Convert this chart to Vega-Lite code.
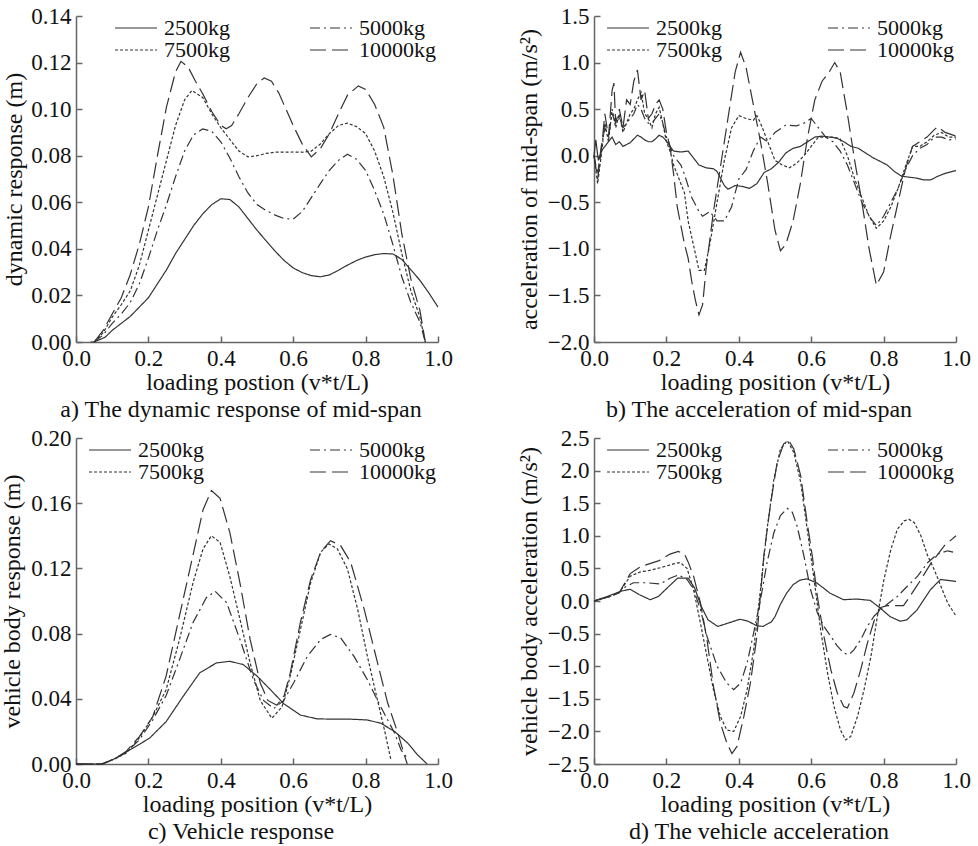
{
"$schema": "https://vega.github.io/schema/vega-lite/v6.json",
"padding": {"left": 0, "top": 5, "right": 5, "bottom": 5},
"config": {
  "font": "Liberation Serif, DejaVu Serif, serif",
  "view": {"stroke": null},
  "axis": {"grid": false, "labelFont": "Liberation Serif, DejaVu Serif, serif", "titleFont": "Liberation Serif, DejaVu Serif, serif", "labelFontSize": 23, "titleFontSize": 24, "titleFontWeight": "normal", "labelColor": "#111", "titleColor": "#111", "domainColor": "#666", "tickColor": "#666", "tickSize": -6, "domainWidth": 1.5, "tickWidth": 1.5, "labelFlush": false, "labelOverlap": false},
  "axisX": {"labelPadding": 11, "titlePadding": 0},
  "axisY": {"labelPadding": 11},
  "title": {"font": "Liberation Serif, DejaVu Serif, serif", "fontSize": 24, "fontWeight": "normal", "color": "#111", "orient": "bottom", "frame": "group", "dx": -16, "offset": 4},
  "legend": {"title": null, "orient": "none", "columns": 2, "symbolType": "M-4,0H4", "symbolSize": 110, "symbolStrokeWidth": 1.2, "symbolStrokeColor": "#333", "labelFont": "Liberation Serif, DejaVu Serif, serif", "labelFontSize": 22, "labelColor": "#111", "labelOffset": 17, "rowPadding": -7, "columnPadding": 103, "padding": 0}
},
"datasets": {
"a": [
{"x":0.04,"y":0,"m":"2500kg"},{"x":0.05,"y":0,"m":"2500kg"},{"x":0.08,"y":0.002,"m":"2500kg"},{"x":0.1,"y":0.005,"m":"2500kg"},{"x":0.125,"y":0.008,"m":"2500kg"},{"x":0.15,"y":0.011,"m":"2500kg"},{"x":0.175,"y":0.015,"m":"2500kg"},{"x":0.2,"y":0.019,"m":"2500kg"},{"x":0.225,"y":0.025,"m":"2500kg"},{"x":0.25,"y":0.031,"m":"2500kg"},{"x":0.275,"y":0.038,"m":"2500kg"},{"x":0.3,"y":0.044,"m":"2500kg"},{"x":0.325,"y":0.05,"m":"2500kg"},{"x":0.35,"y":0.055,"m":"2500kg"},{"x":0.375,"y":0.059,"m":"2500kg"},{"x":0.4,"y":0.0615,"m":"2500kg"},{"x":0.425,"y":0.0612,"m":"2500kg"},{"x":0.45,"y":0.058,"m":"2500kg"},{"x":0.475,"y":0.053,"m":"2500kg"},{"x":0.5,"y":0.048,"m":"2500kg"},{"x":0.525,"y":0.0435,"m":"2500kg"},{"x":0.55,"y":0.039,"m":"2500kg"},{"x":0.575,"y":0.035,"m":"2500kg"},{"x":0.6,"y":0.0318,"m":"2500kg"},{"x":0.625,"y":0.0298,"m":"2500kg"},{"x":0.65,"y":0.0285,"m":"2500kg"},{"x":0.675,"y":0.028,"m":"2500kg"},{"x":0.7,"y":0.0288,"m":"2500kg"},{"x":0.725,"y":0.0308,"m":"2500kg"},{"x":0.75,"y":0.033,"m":"2500kg"},{"x":0.775,"y":0.035,"m":"2500kg"},{"x":0.8,"y":0.0365,"m":"2500kg"},{"x":0.825,"y":0.0375,"m":"2500kg"},{"x":0.85,"y":0.038,"m":"2500kg"},{"x":0.875,"y":0.0378,"m":"2500kg"},{"x":0.9,"y":0.0355,"m":"2500kg"},{"x":0.925,"y":0.031,"m":"2500kg"},{"x":0.95,"y":0.0265,"m":"2500kg"},{"x":0.975,"y":0.021,"m":"2500kg"},{"x":1.0,"y":0.015,"m":"2500kg"},
{"x":0.05,"y":0,"m":"5000kg"},{"x":0.075,"y":0.003,"m":"5000kg"},{"x":0.1,"y":0.008,"m":"5000kg"},{"x":0.125,"y":0.012,"m":"5000kg"},{"x":0.15,"y":0.017,"m":"5000kg"},{"x":0.175,"y":0.025,"m":"5000kg"},{"x":0.2,"y":0.036,"m":"5000kg"},{"x":0.225,"y":0.048,"m":"5000kg"},{"x":0.25,"y":0.059,"m":"5000kg"},{"x":0.275,"y":0.071,"m":"5000kg"},{"x":0.3,"y":0.082,"m":"5000kg"},{"x":0.325,"y":0.089,"m":"5000kg"},{"x":0.35,"y":0.0915,"m":"5000kg"},{"x":0.375,"y":0.0905,"m":"5000kg"},{"x":0.4,"y":0.086,"m":"5000kg"},{"x":0.425,"y":0.079,"m":"5000kg"},{"x":0.45,"y":0.071,"m":"5000kg"},{"x":0.475,"y":0.064,"m":"5000kg"},{"x":0.5,"y":0.059,"m":"5000kg"},{"x":0.525,"y":0.0565,"m":"5000kg"},{"x":0.55,"y":0.0545,"m":"5000kg"},{"x":0.575,"y":0.053,"m":"5000kg"},{"x":0.6,"y":0.0528,"m":"5000kg"},{"x":0.625,"y":0.056,"m":"5000kg"},{"x":0.65,"y":0.062,"m":"5000kg"},{"x":0.675,"y":0.068,"m":"5000kg"},{"x":0.7,"y":0.0737,"m":"5000kg"},{"x":0.725,"y":0.078,"m":"5000kg"},{"x":0.75,"y":0.0806,"m":"5000kg"},{"x":0.775,"y":0.0785,"m":"5000kg"},{"x":0.8,"y":0.0737,"m":"5000kg"},{"x":0.825,"y":0.065,"m":"5000kg"},{"x":0.85,"y":0.055,"m":"5000kg"},{"x":0.875,"y":0.042,"m":"5000kg"},{"x":0.9,"y":0.028,"m":"5000kg"},{"x":0.925,"y":0.017,"m":"5000kg"},{"x":0.95,"y":0.0086,"m":"5000kg"},{"x":0.965,"y":0,"m":"5000kg"},
{"x":0.05,"y":0,"m":"7500kg"},{"x":0.075,"y":0.004,"m":"7500kg"},{"x":0.1,"y":0.0107,"m":"7500kg"},{"x":0.125,"y":0.016,"m":"7500kg"},{"x":0.15,"y":0.022,"m":"7500kg"},{"x":0.175,"y":0.033,"m":"7500kg"},{"x":0.2,"y":0.048,"m":"7500kg"},{"x":0.225,"y":0.063,"m":"7500kg"},{"x":0.25,"y":0.078,"m":"7500kg"},{"x":0.275,"y":0.093,"m":"7500kg"},{"x":0.3,"y":0.104,"m":"7500kg"},{"x":0.32,"y":0.108,"m":"7500kg"},{"x":0.35,"y":0.105,"m":"7500kg"},{"x":0.375,"y":0.098,"m":"7500kg"},{"x":0.4,"y":0.092,"m":"7500kg"},{"x":0.425,"y":0.087,"m":"7500kg"},{"x":0.45,"y":0.082,"m":"7500kg"},{"x":0.475,"y":0.0795,"m":"7500kg"},{"x":0.5,"y":0.08,"m":"7500kg"},{"x":0.525,"y":0.081,"m":"7500kg"},{"x":0.55,"y":0.0815,"m":"7500kg"},{"x":0.575,"y":0.0815,"m":"7500kg"},{"x":0.6,"y":0.0816,"m":"7500kg"},{"x":0.625,"y":0.0815,"m":"7500kg"},{"x":0.65,"y":0.082,"m":"7500kg"},{"x":0.675,"y":0.085,"m":"7500kg"},{"x":0.7,"y":0.0895,"m":"7500kg"},{"x":0.725,"y":0.093,"m":"7500kg"},{"x":0.75,"y":0.094,"m":"7500kg"},{"x":0.775,"y":0.0925,"m":"7500kg"},{"x":0.8,"y":0.0895,"m":"7500kg"},{"x":0.825,"y":0.082,"m":"7500kg"},{"x":0.85,"y":0.071,"m":"7500kg"},{"x":0.875,"y":0.056,"m":"7500kg"},{"x":0.9,"y":0.038,"m":"7500kg"},{"x":0.925,"y":0.022,"m":"7500kg"},{"x":0.95,"y":0.0107,"m":"7500kg"},{"x":0.965,"y":0,"m":"7500kg"},
{"x":0.05,"y":0,"m":"10000kg"},{"x":0.075,"y":0.005,"m":"10000kg"},{"x":0.1,"y":0.012,"m":"10000kg"},{"x":0.125,"y":0.019,"m":"10000kg"},{"x":0.15,"y":0.029,"m":"10000kg"},{"x":0.175,"y":0.042,"m":"10000kg"},{"x":0.2,"y":0.058,"m":"10000kg"},{"x":0.225,"y":0.08,"m":"10000kg"},{"x":0.25,"y":0.101,"m":"10000kg"},{"x":0.275,"y":0.116,"m":"10000kg"},{"x":0.29,"y":0.1205,"m":"10000kg"},{"x":0.31,"y":0.118,"m":"10000kg"},{"x":0.33,"y":0.112,"m":"10000kg"},{"x":0.35,"y":0.1066,"m":"10000kg"},{"x":0.375,"y":0.099,"m":"10000kg"},{"x":0.4,"y":0.093,"m":"10000kg"},{"x":0.415,"y":0.0916,"m":"10000kg"},{"x":0.43,"y":0.093,"m":"10000kg"},{"x":0.45,"y":0.098,"m":"10000kg"},{"x":0.475,"y":0.105,"m":"10000kg"},{"x":0.5,"y":0.111,"m":"10000kg"},{"x":0.52,"y":0.1134,"m":"10000kg"},{"x":0.54,"y":0.112,"m":"10000kg"},{"x":0.56,"y":0.107,"m":"10000kg"},{"x":0.58,"y":0.1,"m":"10000kg"},{"x":0.6,"y":0.093,"m":"10000kg"},{"x":0.625,"y":0.085,"m":"10000kg"},{"x":0.65,"y":0.0795,"m":"10000kg"},{"x":0.675,"y":0.083,"m":"10000kg"},{"x":0.7,"y":0.0895,"m":"10000kg"},{"x":0.725,"y":0.098,"m":"10000kg"},{"x":0.75,"y":0.106,"m":"10000kg"},{"x":0.78,"y":0.11,"m":"10000kg"},{"x":0.8,"y":0.1085,"m":"10000kg"},{"x":0.825,"y":0.102,"m":"10000kg"},{"x":0.85,"y":0.0923,"m":"10000kg"},{"x":0.875,"y":0.072,"m":"10000kg"},{"x":0.9,"y":0.0465,"m":"10000kg"},{"x":0.925,"y":0.027,"m":"10000kg"},{"x":0.95,"y":0.0136,"m":"10000kg"},{"x":0.965,"y":0,"m":"10000kg"}
],
"b": [
{"x":0,"y":0,"m":"2500kg"},{"x":0.005,"y":0.17,"m":"2500kg"},{"x":0.012,"y":-0.05,"m":"2500kg"},{"x":0.02,"y":0.05,"m":"2500kg"},{"x":0.03,"y":0.1,"m":"2500kg"},{"x":0.04,"y":0.15,"m":"2500kg"},{"x":0.05,"y":0.2,"m":"2500kg"},{"x":0.06,"y":0.12,"m":"2500kg"},{"x":0.07,"y":0.15,"m":"2500kg"},{"x":0.08,"y":0.1,"m":"2500kg"},{"x":0.09,"y":0.12,"m":"2500kg"},{"x":0.1,"y":0.14,"m":"2500kg"},{"x":0.11,"y":0.18,"m":"2500kg"},{"x":0.12,"y":0.22,"m":"2500kg"},{"x":0.13,"y":0.2,"m":"2500kg"},{"x":0.14,"y":0.17,"m":"2500kg"},{"x":0.15,"y":0.15,"m":"2500kg"},{"x":0.16,"y":0.15,"m":"2500kg"},{"x":0.17,"y":0.18,"m":"2500kg"},{"x":0.18,"y":0.22,"m":"2500kg"},{"x":0.19,"y":0.2,"m":"2500kg"},{"x":0.2,"y":0.16,"m":"2500kg"},{"x":0.21,"y":0.1,"m":"2500kg"},{"x":0.22,"y":0.05,"m":"2500kg"},{"x":0.24,"y":0.04,"m":"2500kg"},{"x":0.26,"y":0.05,"m":"2500kg"},{"x":0.27,"y":0,"m":"2500kg"},{"x":0.29,"y":-0.1,"m":"2500kg"},{"x":0.31,"y":-0.13,"m":"2500kg"},{"x":0.33,"y":-0.14,"m":"2500kg"},{"x":0.34,"y":-0.17,"m":"2500kg"},{"x":0.36,"y":-0.32,"m":"2500kg"},{"x":0.37,"y":-0.36,"m":"2500kg"},{"x":0.39,"y":-0.32,"m":"2500kg"},{"x":0.41,"y":-0.33,"m":"2500kg"},{"x":0.43,"y":-0.35,"m":"2500kg"},{"x":0.45,"y":-0.3,"m":"2500kg"},{"x":0.47,"y":-0.18,"m":"2500kg"},{"x":0.49,"y":-0.14,"m":"2500kg"},{"x":0.51,"y":-0.07,"m":"2500kg"},{"x":0.53,"y":0.03,"m":"2500kg"},{"x":0.55,"y":0.08,"m":"2500kg"},{"x":0.57,"y":0.1,"m":"2500kg"},{"x":0.59,"y":0.15,"m":"2500kg"},{"x":0.61,"y":0.2,"m":"2500kg"},{"x":0.63,"y":0.21,"m":"2500kg"},{"x":0.65,"y":0.2,"m":"2500kg"},{"x":0.67,"y":0.19,"m":"2500kg"},{"x":0.69,"y":0.15,"m":"2500kg"},{"x":0.71,"y":0.1,"m":"2500kg"},{"x":0.73,"y":0.08,"m":"2500kg"},{"x":0.75,"y":0.03,"m":"2500kg"},{"x":0.77,"y":-0.02,"m":"2500kg"},{"x":0.79,"y":-0.06,"m":"2500kg"},{"x":0.81,"y":-0.1,"m":"2500kg"},{"x":0.83,"y":-0.17,"m":"2500kg"},{"x":0.85,"y":-0.22,"m":"2500kg"},{"x":0.87,"y":-0.23,"m":"2500kg"},{"x":0.89,"y":-0.24,"m":"2500kg"},{"x":0.91,"y":-0.26,"m":"2500kg"},{"x":0.93,"y":-0.26,"m":"2500kg"},{"x":0.95,"y":-0.22,"m":"2500kg"},{"x":0.97,"y":-0.19,"m":"2500kg"},{"x":1.0,"y":-0.16,"m":"2500kg"},
{"x":0,"y":0,"m":"5000kg"},{"x":0.01,"y":-0.2,"m":"5000kg"},{"x":0.02,"y":0.1,"m":"5000kg"},{"x":0.03,"y":0.3,"m":"5000kg"},{"x":0.04,"y":0.2,"m":"5000kg"},{"x":0.05,"y":0.45,"m":"5000kg"},{"x":0.06,"y":0.35,"m":"5000kg"},{"x":0.07,"y":0.4,"m":"5000kg"},{"x":0.08,"y":0.3,"m":"5000kg"},{"x":0.09,"y":0.35,"m":"5000kg"},{"x":0.1,"y":0.4,"m":"5000kg"},{"x":0.11,"y":0.45,"m":"5000kg"},{"x":0.12,"y":0.55,"m":"5000kg"},{"x":0.13,"y":0.5,"m":"5000kg"},{"x":0.14,"y":0.4,"m":"5000kg"},{"x":0.15,"y":0.35,"m":"5000kg"},{"x":0.16,"y":0.35,"m":"5000kg"},{"x":0.17,"y":0.4,"m":"5000kg"},{"x":0.18,"y":0.45,"m":"5000kg"},{"x":0.19,"y":0.35,"m":"5000kg"},{"x":0.2,"y":0.2,"m":"5000kg"},{"x":0.22,"y":0,"m":"5000kg"},{"x":0.24,"y":-0.1,"m":"5000kg"},{"x":0.25,"y":-0.2,"m":"5000kg"},{"x":0.27,"y":-0.45,"m":"5000kg"},{"x":0.29,"y":-0.6,"m":"5000kg"},{"x":0.3,"y":-0.65,"m":"5000kg"},{"x":0.32,"y":-0.6,"m":"5000kg"},{"x":0.34,"y":-0.7,"m":"5000kg"},{"x":0.36,"y":-0.7,"m":"5000kg"},{"x":0.38,"y":-0.55,"m":"5000kg"},{"x":0.4,"y":-0.25,"m":"5000kg"},{"x":0.42,"y":-0.15,"m":"5000kg"},{"x":0.44,"y":0.05,"m":"5000kg"},{"x":0.46,"y":0.2,"m":"5000kg"},{"x":0.48,"y":0.15,"m":"5000kg"},{"x":0.5,"y":0.25,"m":"5000kg"},{"x":0.53,"y":0.33,"m":"5000kg"},{"x":0.56,"y":0.32,"m":"5000kg"},{"x":0.58,"y":0.35,"m":"5000kg"},{"x":0.6,"y":0.4,"m":"5000kg"},{"x":0.62,"y":0.3,"m":"5000kg"},{"x":0.64,"y":0.2,"m":"5000kg"},{"x":0.66,"y":0.15,"m":"5000kg"},{"x":0.68,"y":0.05,"m":"5000kg"},{"x":0.7,"y":-0.1,"m":"5000kg"},{"x":0.72,"y":-0.3,"m":"5000kg"},{"x":0.74,"y":-0.5,"m":"5000kg"},{"x":0.76,"y":-0.65,"m":"5000kg"},{"x":0.78,"y":-0.75,"m":"5000kg"},{"x":0.8,"y":-0.65,"m":"5000kg"},{"x":0.82,"y":-0.5,"m":"5000kg"},{"x":0.84,"y":-0.35,"m":"5000kg"},{"x":0.86,"y":-0.15,"m":"5000kg"},{"x":0.88,"y":0,"m":"5000kg"},{"x":0.9,"y":0.08,"m":"5000kg"},{"x":0.92,"y":0.12,"m":"5000kg"},{"x":0.94,"y":0.2,"m":"5000kg"},{"x":0.96,"y":0.2,"m":"5000kg"},{"x":0.98,"y":0.17,"m":"5000kg"},{"x":1.0,"y":0.18,"m":"5000kg"},
{"x":0,"y":0,"m":"7500kg"},{"x":0.01,"y":-0.3,"m":"7500kg"},{"x":0.02,"y":0,"m":"7500kg"},{"x":0.03,"y":0.35,"m":"7500kg"},{"x":0.04,"y":0.15,"m":"7500kg"},{"x":0.05,"y":0.5,"m":"7500kg"},{"x":0.06,"y":0.3,"m":"7500kg"},{"x":0.07,"y":0.45,"m":"7500kg"},{"x":0.08,"y":0.25,"m":"7500kg"},{"x":0.09,"y":0.35,"m":"7500kg"},{"x":0.1,"y":0.45,"m":"7500kg"},{"x":0.11,"y":0.5,"m":"7500kg"},{"x":0.12,"y":0.6,"m":"7500kg"},{"x":0.13,"y":0.68,"m":"7500kg"},{"x":0.14,"y":0.45,"m":"7500kg"},{"x":0.15,"y":0.4,"m":"7500kg"},{"x":0.16,"y":0.3,"m":"7500kg"},{"x":0.17,"y":0.45,"m":"7500kg"},{"x":0.18,"y":0.52,"m":"7500kg"},{"x":0.19,"y":0.35,"m":"7500kg"},{"x":0.2,"y":0.15,"m":"7500kg"},{"x":0.21,"y":0.05,"m":"7500kg"},{"x":0.22,"y":-0.1,"m":"7500kg"},{"x":0.23,"y":-0.2,"m":"7500kg"},{"x":0.25,"y":-0.4,"m":"7500kg"},{"x":0.26,"y":-0.7,"m":"7500kg"},{"x":0.28,"y":-1.05,"m":"7500kg"},{"x":0.29,"y":-1.23,"m":"7500kg"},{"x":0.305,"y":-1.23,"m":"7500kg"},{"x":0.32,"y":-0.95,"m":"7500kg"},{"x":0.34,"y":-0.5,"m":"7500kg"},{"x":0.36,"y":-0.05,"m":"7500kg"},{"x":0.38,"y":0.3,"m":"7500kg"},{"x":0.4,"y":0.43,"m":"7500kg"},{"x":0.42,"y":0.4,"m":"7500kg"},{"x":0.44,"y":0.38,"m":"7500kg"},{"x":0.45,"y":0.43,"m":"7500kg"},{"x":0.46,"y":0.35,"m":"7500kg"},{"x":0.48,"y":0.15,"m":"7500kg"},{"x":0.5,"y":-0.05,"m":"7500kg"},{"x":0.52,"y":-0.1,"m":"7500kg"},{"x":0.54,"y":-0.13,"m":"7500kg"},{"x":0.56,"y":-0.08,"m":"7500kg"},{"x":0.58,"y":0,"m":"7500kg"},{"x":0.6,"y":0.1,"m":"7500kg"},{"x":0.62,"y":0.2,"m":"7500kg"},{"x":0.64,"y":0.2,"m":"7500kg"},{"x":0.66,"y":0.2,"m":"7500kg"},{"x":0.68,"y":0.18,"m":"7500kg"},{"x":0.7,"y":0,"m":"7500kg"},{"x":0.72,"y":-0.25,"m":"7500kg"},{"x":0.74,"y":-0.45,"m":"7500kg"},{"x":0.76,"y":-0.65,"m":"7500kg"},{"x":0.78,"y":-0.78,"m":"7500kg"},{"x":0.8,"y":-0.7,"m":"7500kg"},{"x":0.82,"y":-0.55,"m":"7500kg"},{"x":0.84,"y":-0.35,"m":"7500kg"},{"x":0.86,"y":-0.12,"m":"7500kg"},{"x":0.88,"y":0.1,"m":"7500kg"},{"x":0.9,"y":0.1,"m":"7500kg"},{"x":0.92,"y":0.15,"m":"7500kg"},{"x":0.94,"y":0.22,"m":"7500kg"},{"x":0.96,"y":0.25,"m":"7500kg"},{"x":0.98,"y":0.2,"m":"7500kg"},{"x":1.0,"y":0.2,"m":"7500kg"},
{"x":0,"y":0,"m":"10000kg"},{"x":0.01,"y":-0.25,"m":"10000kg"},{"x":0.02,"y":0.05,"m":"10000kg"},{"x":0.03,"y":0.45,"m":"10000kg"},{"x":0.04,"y":0.2,"m":"10000kg"},{"x":0.05,"y":0.7,"m":"10000kg"},{"x":0.055,"y":0.78,"m":"10000kg"},{"x":0.06,"y":0.35,"m":"10000kg"},{"x":0.07,"y":0.5,"m":"10000kg"},{"x":0.08,"y":0.3,"m":"10000kg"},{"x":0.09,"y":0.6,"m":"10000kg"},{"x":0.1,"y":0.55,"m":"10000kg"},{"x":0.11,"y":0.8,"m":"10000kg"},{"x":0.12,"y":0.92,"m":"10000kg"},{"x":0.13,"y":0.6,"m":"10000kg"},{"x":0.14,"y":0.7,"m":"10000kg"},{"x":0.15,"y":0.4,"m":"10000kg"},{"x":0.16,"y":0.45,"m":"10000kg"},{"x":0.17,"y":0.55,"m":"10000kg"},{"x":0.18,"y":0.6,"m":"10000kg"},{"x":0.19,"y":0.5,"m":"10000kg"},{"x":0.2,"y":0.25,"m":"10000kg"},{"x":0.21,"y":0.1,"m":"10000kg"},{"x":0.22,"y":-0.2,"m":"10000kg"},{"x":0.23,"y":-0.55,"m":"10000kg"},{"x":0.25,"y":-0.95,"m":"10000kg"},{"x":0.26,"y":-1.1,"m":"10000kg"},{"x":0.27,"y":-1.35,"m":"10000kg"},{"x":0.28,"y":-1.55,"m":"10000kg"},{"x":0.29,"y":-1.71,"m":"10000kg"},{"x":0.3,"y":-1.6,"m":"10000kg"},{"x":0.31,"y":-1.2,"m":"10000kg"},{"x":0.33,"y":-0.6,"m":"10000kg"},{"x":0.35,"y":-0.1,"m":"10000kg"},{"x":0.37,"y":0.4,"m":"10000kg"},{"x":0.39,"y":0.9,"m":"10000kg"},{"x":0.405,"y":1.11,"m":"10000kg"},{"x":0.42,"y":0.95,"m":"10000kg"},{"x":0.44,"y":0.55,"m":"10000kg"},{"x":0.46,"y":0.15,"m":"10000kg"},{"x":0.48,"y":-0.3,"m":"10000kg"},{"x":0.5,"y":-0.8,"m":"10000kg"},{"x":0.515,"y":-1.02,"m":"10000kg"},{"x":0.53,"y":-0.95,"m":"10000kg"},{"x":0.55,"y":-0.7,"m":"10000kg"},{"x":0.57,"y":-0.3,"m":"10000kg"},{"x":0.59,"y":0.2,"m":"10000kg"},{"x":0.61,"y":0.6,"m":"10000kg"},{"x":0.63,"y":0.8,"m":"10000kg"},{"x":0.65,"y":0.9,"m":"10000kg"},{"x":0.665,"y":1.0,"m":"10000kg"},{"x":0.68,"y":0.9,"m":"10000kg"},{"x":0.7,"y":0.45,"m":"10000kg"},{"x":0.72,"y":-0.05,"m":"10000kg"},{"x":0.74,"y":-0.5,"m":"10000kg"},{"x":0.76,"y":-1.0,"m":"10000kg"},{"x":0.78,"y":-1.39,"m":"10000kg"},{"x":0.8,"y":-1.25,"m":"10000kg"},{"x":0.82,"y":-0.85,"m":"10000kg"},{"x":0.84,"y":-0.5,"m":"10000kg"},{"x":0.86,"y":-0.15,"m":"10000kg"},{"x":0.88,"y":0.1,"m":"10000kg"},{"x":0.9,"y":0.15,"m":"10000kg"},{"x":0.92,"y":0.2,"m":"10000kg"},{"x":0.94,"y":0.28,"m":"10000kg"},{"x":0.95,"y":0.31,"m":"10000kg"},{"x":0.97,"y":0.25,"m":"10000kg"},{"x":1.0,"y":0.21,"m":"10000kg"}
],
"c": [
{"x":0,"y":0,"m":"2500kg"},{"x":0.07,"y":0,"m":"2500kg"},{"x":0.11,"y":0.0035,"m":"2500kg"},{"x":0.157,"y":0.0097,"m":"2500kg"},{"x":0.203,"y":0.0158,"m":"2500kg"},{"x":0.249,"y":0.026,"m":"2500kg"},{"x":0.296,"y":0.0415,"m":"2500kg"},{"x":0.342,"y":0.056,"m":"2500kg"},{"x":0.388,"y":0.062,"m":"2500kg"},{"x":0.425,"y":0.063,"m":"2500kg"},{"x":0.462,"y":0.061,"m":"2500kg"},{"x":0.5,"y":0.054,"m":"2500kg"},{"x":0.537,"y":0.0456,"m":"2500kg"},{"x":0.574,"y":0.037,"m":"2500kg"},{"x":0.62,"y":0.03,"m":"2500kg"},{"x":0.666,"y":0.0277,"m":"2500kg"},{"x":0.713,"y":0.0275,"m":"2500kg"},{"x":0.759,"y":0.0275,"m":"2500kg"},{"x":0.805,"y":0.027,"m":"2500kg"},{"x":0.842,"y":0.025,"m":"2500kg"},{"x":0.88,"y":0.02,"m":"2500kg"},{"x":0.917,"y":0.0127,"m":"2500kg"},{"x":0.944,"y":0.0055,"m":"2500kg"},{"x":0.97,"y":0,"m":"2500kg"},
{"x":0,"y":0,"m":"5000kg"},{"x":0.073,"y":0,"m":"5000kg"},{"x":0.105,"y":0.003,"m":"5000kg"},{"x":0.138,"y":0.007,"m":"5000kg"},{"x":0.175,"y":0.0148,"m":"5000kg"},{"x":0.212,"y":0.027,"m":"5000kg"},{"x":0.249,"y":0.042,"m":"5000kg"},{"x":0.286,"y":0.064,"m":"5000kg"},{"x":0.323,"y":0.0866,"m":"5000kg"},{"x":0.36,"y":0.102,"m":"5000kg"},{"x":0.384,"y":0.106,"m":"5000kg"},{"x":0.416,"y":0.099,"m":"5000kg"},{"x":0.453,"y":0.0764,"m":"5000kg"},{"x":0.49,"y":0.0517,"m":"5000kg"},{"x":0.518,"y":0.039,"m":"5000kg"},{"x":0.546,"y":0.034,"m":"5000kg"},{"x":0.574,"y":0.039,"m":"5000kg"},{"x":0.601,"y":0.0497,"m":"5000kg"},{"x":0.639,"y":0.066,"m":"5000kg"},{"x":0.676,"y":0.0764,"m":"5000kg"},{"x":0.703,"y":0.0795,"m":"5000kg"},{"x":0.731,"y":0.0774,"m":"5000kg"},{"x":0.768,"y":0.066,"m":"5000kg"},{"x":0.805,"y":0.0517,"m":"5000kg"},{"x":0.842,"y":0.035,"m":"5000kg"},{"x":0.88,"y":0.019,"m":"5000kg"},{"x":0.898,"y":0.0086,"m":"5000kg"},{"x":0.912,"y":0.0045,"m":"5000kg"},
{"x":0,"y":0,"m":"7500kg"},{"x":0.073,"y":0,"m":"7500kg"},{"x":0.105,"y":0.003,"m":"7500kg"},{"x":0.138,"y":0.0066,"m":"7500kg"},{"x":0.175,"y":0.016,"m":"7500kg"},{"x":0.212,"y":0.029,"m":"7500kg"},{"x":0.249,"y":0.0456,"m":"7500kg"},{"x":0.286,"y":0.0764,"m":"7500kg"},{"x":0.323,"y":0.111,"m":"7500kg"},{"x":0.351,"y":0.132,"m":"7500kg"},{"x":0.374,"y":0.14,"m":"7500kg"},{"x":0.398,"y":0.136,"m":"7500kg"},{"x":0.425,"y":0.115,"m":"7500kg"},{"x":0.453,"y":0.0887,"m":"7500kg"},{"x":0.481,"y":0.062,"m":"7500kg"},{"x":0.509,"y":0.039,"m":"7500kg"},{"x":0.541,"y":0.028,"m":"7500kg"},{"x":0.569,"y":0.035,"m":"7500kg"},{"x":0.592,"y":0.054,"m":"7500kg"},{"x":0.62,"y":0.0825,"m":"7500kg"},{"x":0.648,"y":0.111,"m":"7500kg"},{"x":0.676,"y":0.13,"m":"7500kg"},{"x":0.699,"y":0.135,"m":"7500kg"},{"x":0.722,"y":0.132,"m":"7500kg"},{"x":0.75,"y":0.1195,"m":"7500kg"},{"x":0.778,"y":0.095,"m":"7500kg"},{"x":0.805,"y":0.066,"m":"7500kg"},{"x":0.833,"y":0.039,"m":"7500kg"},{"x":0.852,"y":0.021,"m":"7500kg"},{"x":0.87,"y":0.0025,"m":"7500kg"},
{"x":0,"y":0,"m":"10000kg"},{"x":0.073,"y":0,"m":"10000kg"},{"x":0.105,"y":0.003,"m":"10000kg"},{"x":0.138,"y":0.0076,"m":"10000kg"},{"x":0.175,"y":0.0168,"m":"10000kg"},{"x":0.212,"y":0.029,"m":"10000kg"},{"x":0.249,"y":0.054,"m":"10000kg"},{"x":0.286,"y":0.091,"m":"10000kg"},{"x":0.323,"y":0.128,"m":"10000kg"},{"x":0.351,"y":0.156,"m":"10000kg"},{"x":0.374,"y":0.1678,"m":"10000kg"},{"x":0.398,"y":0.163,"m":"10000kg"},{"x":0.425,"y":0.142,"m":"10000kg"},{"x":0.453,"y":0.111,"m":"10000kg"},{"x":0.481,"y":0.0764,"m":"10000kg"},{"x":0.509,"y":0.0497,"m":"10000kg"},{"x":0.53,"y":0.039,"m":"10000kg"},{"x":0.555,"y":0.036,"m":"10000kg"},{"x":0.575,"y":0.042,"m":"10000kg"},{"x":0.592,"y":0.056,"m":"10000kg"},{"x":0.62,"y":0.087,"m":"10000kg"},{"x":0.648,"y":0.113,"m":"10000kg"},{"x":0.676,"y":0.13,"m":"10000kg"},{"x":0.703,"y":0.137,"m":"10000kg"},{"x":0.731,"y":0.134,"m":"10000kg"},{"x":0.759,"y":0.1236,"m":"10000kg"},{"x":0.796,"y":0.095,"m":"10000kg"},{"x":0.833,"y":0.062,"m":"10000kg"},{"x":0.861,"y":0.0374,"m":"10000kg"},{"x":0.889,"y":0.019,"m":"10000kg"},{"x":0.907,"y":0.0055,"m":"10000kg"},{"x":0.915,"y":0,"m":"10000kg"}
],
"d": [
{"x":0,"y":0,"m":"2500kg"},{"x":0.037,"y":0.07,"m":"2500kg"},{"x":0.074,"y":0.15,"m":"2500kg"},{"x":0.1,"y":0.18,"m":"2500kg"},{"x":0.124,"y":0.1,"m":"2500kg"},{"x":0.155,"y":0.02,"m":"2500kg"},{"x":0.178,"y":0.07,"m":"2500kg"},{"x":0.206,"y":0.22,"m":"2500kg"},{"x":0.231,"y":0.35,"m":"2500kg"},{"x":0.26,"y":0.35,"m":"2500kg"},{"x":0.278,"y":0.2,"m":"2500kg"},{"x":0.296,"y":-0.08,"m":"2500kg"},{"x":0.315,"y":-0.29,"m":"2500kg"},{"x":0.342,"y":-0.39,"m":"2500kg"},{"x":0.37,"y":-0.34,"m":"2500kg"},{"x":0.403,"y":-0.28,"m":"2500kg"},{"x":0.426,"y":-0.31,"m":"2500kg"},{"x":0.449,"y":-0.38,"m":"2500kg"},{"x":0.467,"y":-0.39,"m":"2500kg"},{"x":0.49,"y":-0.32,"m":"2500kg"},{"x":0.5,"y":-0.24,"m":"2500kg"},{"x":0.515,"y":-0.05,"m":"2500kg"},{"x":0.532,"y":0.12,"m":"2500kg"},{"x":0.55,"y":0.25,"m":"2500kg"},{"x":0.569,"y":0.32,"m":"2500kg"},{"x":0.588,"y":0.34,"m":"2500kg"},{"x":0.615,"y":0.28,"m":"2500kg"},{"x":0.652,"y":0.12,"m":"2500kg"},{"x":0.689,"y":0.02,"m":"2500kg"},{"x":0.726,"y":0.03,"m":"2500kg"},{"x":0.763,"y":0.01,"m":"2500kg"},{"x":0.791,"y":-0.11,"m":"2500kg"},{"x":0.818,"y":-0.24,"m":"2500kg"},{"x":0.846,"y":-0.31,"m":"2500kg"},{"x":0.864,"y":-0.29,"m":"2500kg"},{"x":0.892,"y":-0.14,"m":"2500kg"},{"x":0.929,"y":0.17,"m":"2500kg"},{"x":0.957,"y":0.33,"m":"2500kg"},{"x":1.0,"y":0.3,"m":"2500kg"},
{"x":0,"y":0,"m":"5000kg"},{"x":0.05,"y":0.08,"m":"5000kg"},{"x":0.07,"y":0.13,"m":"5000kg"},{"x":0.081,"y":0.2,"m":"5000kg"},{"x":0.109,"y":0.28,"m":"5000kg"},{"x":0.146,"y":0.28,"m":"5000kg"},{"x":0.183,"y":0.26,"m":"5000kg"},{"x":0.21,"y":0.35,"m":"5000kg"},{"x":0.233,"y":0.4,"m":"5000kg"},{"x":0.257,"y":0.33,"m":"5000kg"},{"x":0.275,"y":0.18,"m":"5000kg"},{"x":0.294,"y":-0.13,"m":"5000kg"},{"x":0.312,"y":-0.54,"m":"5000kg"},{"x":0.34,"y":-1.0,"m":"5000kg"},{"x":0.367,"y":-1.26,"m":"5000kg"},{"x":0.386,"y":-1.36,"m":"5000kg"},{"x":0.405,"y":-1.26,"m":"5000kg"},{"x":0.423,"y":-0.95,"m":"5000kg"},{"x":0.441,"y":-0.49,"m":"5000kg"},{"x":0.46,"y":0.02,"m":"5000kg"},{"x":0.478,"y":0.59,"m":"5000kg"},{"x":0.497,"y":1.05,"m":"5000kg"},{"x":0.515,"y":1.31,"m":"5000kg"},{"x":0.534,"y":1.42,"m":"5000kg"},{"x":0.548,"y":1.36,"m":"5000kg"},{"x":0.561,"y":1.15,"m":"5000kg"},{"x":0.58,"y":0.69,"m":"5000kg"},{"x":0.598,"y":0.18,"m":"5000kg"},{"x":0.617,"y":-0.18,"m":"5000kg"},{"x":0.635,"y":-0.39,"m":"5000kg"},{"x":0.654,"y":-0.54,"m":"5000kg"},{"x":0.672,"y":-0.69,"m":"5000kg"},{"x":0.69,"y":-0.8,"m":"5000kg"},{"x":0.705,"y":-0.82,"m":"5000kg"},{"x":0.718,"y":-0.75,"m":"5000kg"},{"x":0.737,"y":-0.59,"m":"5000kg"},{"x":0.755,"y":-0.39,"m":"5000kg"},{"x":0.774,"y":-0.23,"m":"5000kg"},{"x":0.792,"y":-0.13,"m":"5000kg"},{"x":0.81,"y":-0.05,"m":"5000kg"},{"x":0.838,"y":0.07,"m":"5000kg"},{"x":0.866,"y":0.23,"m":"5000kg"},{"x":0.894,"y":0.38,"m":"5000kg"},{"x":0.922,"y":0.59,"m":"5000kg"},{"x":0.949,"y":0.72,"m":"5000kg"},{"x":0.977,"y":0.77,"m":"5000kg"},{"x":1.0,"y":0.74,"m":"5000kg"},
{"x":0,"y":0,"m":"7500kg"},{"x":0.05,"y":0.08,"m":"7500kg"},{"x":0.07,"y":0.13,"m":"7500kg"},{"x":0.1,"y":0.38,"m":"7500kg"},{"x":0.13,"y":0.45,"m":"7500kg"},{"x":0.146,"y":0.46,"m":"7500kg"},{"x":0.183,"y":0.51,"m":"7500kg"},{"x":0.22,"y":0.57,"m":"7500kg"},{"x":0.238,"y":0.59,"m":"7500kg"},{"x":0.257,"y":0.5,"m":"7500kg"},{"x":0.275,"y":0.18,"m":"7500kg"},{"x":0.294,"y":-0.34,"m":"7500kg"},{"x":0.312,"y":-0.85,"m":"7500kg"},{"x":0.33,"y":-1.36,"m":"7500kg"},{"x":0.349,"y":-1.77,"m":"7500kg"},{"x":0.367,"y":-1.98,"m":"7500kg"},{"x":0.386,"y":-2.0,"m":"7500kg"},{"x":0.405,"y":-1.77,"m":"7500kg"},{"x":0.423,"y":-1.36,"m":"7500kg"},{"x":0.441,"y":-0.75,"m":"7500kg"},{"x":0.46,"y":0.18,"m":"7500kg"},{"x":0.478,"y":1.1,"m":"7500kg"},{"x":0.497,"y":1.87,"m":"7500kg"},{"x":0.515,"y":2.33,"m":"7500kg"},{"x":0.534,"y":2.46,"m":"7500kg"},{"x":0.552,"y":2.28,"m":"7500kg"},{"x":0.571,"y":1.82,"m":"7500kg"},{"x":0.589,"y":1.1,"m":"7500kg"},{"x":0.608,"y":0.33,"m":"7500kg"},{"x":0.626,"y":-0.44,"m":"7500kg"},{"x":0.645,"y":-1.1,"m":"7500kg"},{"x":0.663,"y":-1.62,"m":"7500kg"},{"x":0.681,"y":-1.98,"m":"7500kg"},{"x":0.695,"y":-2.13,"m":"7500kg"},{"x":0.709,"y":-2.08,"m":"7500kg"},{"x":0.728,"y":-1.77,"m":"7500kg"},{"x":0.746,"y":-1.36,"m":"7500kg"},{"x":0.765,"y":-0.85,"m":"7500kg"},{"x":0.783,"y":-0.23,"m":"7500kg"},{"x":0.801,"y":0.33,"m":"7500kg"},{"x":0.82,"y":0.79,"m":"7500kg"},{"x":0.838,"y":1.1,"m":"7500kg"},{"x":0.857,"y":1.23,"m":"7500kg"},{"x":0.871,"y":1.25,"m":"7500kg"},{"x":0.885,"y":1.2,"m":"7500kg"},{"x":0.903,"y":1.0,"m":"7500kg"},{"x":0.922,"y":0.69,"m":"7500kg"},{"x":0.94,"y":0.48,"m":"7500kg"},{"x":0.958,"y":0.23,"m":"7500kg"},{"x":0.977,"y":-0.03,"m":"7500kg"},{"x":1.0,"y":-0.23,"m":"7500kg"},
{"x":0,"y":0,"m":"10000kg"},{"x":0.05,"y":0.08,"m":"10000kg"},{"x":0.07,"y":0.13,"m":"10000kg"},{"x":0.1,"y":0.42,"m":"10000kg"},{"x":0.13,"y":0.53,"m":"10000kg"},{"x":0.18,"y":0.62,"m":"10000kg"},{"x":0.21,"y":0.72,"m":"10000kg"},{"x":0.233,"y":0.76,"m":"10000kg"},{"x":0.25,"y":0.72,"m":"10000kg"},{"x":0.26,"y":0.6,"m":"10000kg"},{"x":0.275,"y":0.38,"m":"10000kg"},{"x":0.294,"y":-0.03,"m":"10000kg"},{"x":0.312,"y":-0.59,"m":"10000kg"},{"x":0.33,"y":-1.31,"m":"10000kg"},{"x":0.349,"y":-1.87,"m":"10000kg"},{"x":0.367,"y":-2.18,"m":"10000kg"},{"x":0.381,"y":-2.34,"m":"10000kg"},{"x":0.395,"y":-2.23,"m":"10000kg"},{"x":0.414,"y":-1.77,"m":"10000kg"},{"x":0.432,"y":-1.26,"m":"10000kg"},{"x":0.45,"y":-0.54,"m":"10000kg"},{"x":0.469,"y":0.69,"m":"10000kg"},{"x":0.487,"y":1.46,"m":"10000kg"},{"x":0.506,"y":2.13,"m":"10000kg"},{"x":0.524,"y":2.41,"m":"10000kg"},{"x":0.538,"y":2.46,"m":"10000kg"},{"x":0.552,"y":2.33,"m":"10000kg"},{"x":0.571,"y":1.92,"m":"10000kg"},{"x":0.589,"y":1.2,"m":"10000kg"},{"x":0.603,"y":0.69,"m":"10000kg"},{"x":0.617,"y":0.07,"m":"10000kg"},{"x":0.635,"y":-0.54,"m":"10000kg"},{"x":0.654,"y":-1.05,"m":"10000kg"},{"x":0.672,"y":-1.41,"m":"10000kg"},{"x":0.69,"y":-1.62,"m":"10000kg"},{"x":0.7,"y":-1.64,"m":"10000kg"},{"x":0.718,"y":-1.41,"m":"10000kg"},{"x":0.737,"y":-1.05,"m":"10000kg"},{"x":0.755,"y":-0.65,"m":"10000kg"},{"x":0.774,"y":-0.3,"m":"10000kg"},{"x":0.792,"y":-0.1,"m":"10000kg"},{"x":0.81,"y":-0.07,"m":"10000kg"},{"x":0.83,"y":-0.07,"m":"10000kg"},{"x":0.855,"y":-0.07,"m":"10000kg"},{"x":0.87,"y":0.05,"m":"10000kg"},{"x":0.894,"y":0.25,"m":"10000kg"},{"x":0.931,"y":0.58,"m":"10000kg"},{"x":0.968,"y":0.85,"m":"10000kg"},{"x":1.0,"y":1.0,"m":"10000kg"}
]
},
"columns": 2,
"spacing": {"row": 5, "column": 64},
"resolve": {"scale": {"strokeDash": "independent"}, "legend": {"strokeDash": "independent"}},
"concat": [
{
  "data": {"name": "a"},
  "width": 362, "height": 326,
  "title": {"text": "a) The dynamic response of mid-span"},
  "mark": {"type": "line", "strokeWidth": 1.2, "color": "#333"},
  "encoding": {
    "x": {"field": "x", "type": "quantitative", "scale": {"domain": [0, 1], "nice": false, "zero": false}, "axis": {"title": "loading postion (v*t/L)", "values": [0, 0.2, 0.4, 0.6, 0.8, 1.0], "format": ".1f"}},
    "y": {"field": "y", "type": "quantitative", "scale": {"domain": [0, 0.14], "nice": false}, "axis": {"title": "dynamic response (m)", "values": [0, 0.02, 0.04, 0.06, 0.08, 0.1, 0.12, 0.14], "format": ".2f", "titlePadding": 4}},
    "strokeDash": {"field": "m", "type": "nominal", "scale": {"domain": ["2500kg", "7500kg", "5000kg", "10000kg"], "range": [[1, 0], [3, 2], [10, 4, 2, 4], [16, 6]]}, "legend": {"orient": "none", "legendX": 49, "legendY": 1, "columnPadding": 77}}
  }
},
{
  "data": {"name": "b"},
  "width": 362, "height": 326,
  "title": {"text": "b) The acceleration of mid-span"},
  "mark": {"type": "line", "strokeWidth": 1.2, "color": "#333"},
  "encoding": {
    "x": {"field": "x", "type": "quantitative", "scale": {"domain": [0, 1], "nice": false, "zero": false}, "axis": {"title": "loading position (v*t/L)", "values": [0, 0.2, 0.4, 0.6, 0.8, 1.0], "format": ".1f"}},
    "y": {"field": "y", "type": "quantitative", "scale": {"domain": [-2, 1.5], "nice": false}, "axis": {"title": "acceleration of mid-span (m/s²)", "values": [-2, -1.5, -1, -0.5, 0, 0.5, 1, 1.5], "format": ".1f", "titlePadding": 6}},
    "strokeDash": {"field": "m", "type": "nominal", "scale": {"domain": ["2500kg", "7500kg", "5000kg", "10000kg"], "range": [[1, 0], [3, 2], [10, 4, 2, 4], [16, 6]]}, "legend": {"orient": "none", "legendX": 23, "legendY": 1}}
  }
},
{
  "data": {"name": "c"},
  "width": 362, "height": 326,
  "title": {"text": "c) Vehicle response"},
  "mark": {"type": "line", "strokeWidth": 1.2, "color": "#333"},
  "encoding": {
    "x": {"field": "x", "type": "quantitative", "scale": {"domain": [0, 1], "nice": false, "zero": false}, "axis": {"title": "loading position (v*t/L)", "values": [0, 0.2, 0.4, 0.6, 0.8, 1.0], "format": ".1f"}},
    "y": {"field": "y", "type": "quantitative", "scale": {"domain": [0, 0.2], "nice": false}, "axis": {"title": "vehicle body response (m)", "values": [0, 0.04, 0.08, 0.12, 0.16, 0.2], "format": ".2f", "titlePadding": 6}},
    "strokeDash": {"field": "m", "type": "nominal", "scale": {"domain": ["2500kg", "7500kg", "5000kg", "10000kg"], "range": [[1, 0], [3, 2], [10, 4, 2, 4], [16, 6]]}, "legend": {"orient": "none", "legendX": 23, "legendY": 1}}
  }
},
{
  "data": {"name": "d"},
  "width": 362, "height": 326,
  "title": {"text": "d) The vehicle acceleration"},
  "mark": {"type": "line", "strokeWidth": 1.2, "color": "#333"},
  "encoding": {
    "x": {"field": "x", "type": "quantitative", "scale": {"domain": [0, 1], "nice": false, "zero": false}, "axis": {"title": "loading position (v*t/L)", "values": [0, 0.2, 0.4, 0.6, 0.8, 1.0], "format": ".1f"}},
    "y": {"field": "y", "type": "quantitative", "scale": {"domain": [-2.5, 2.5], "nice": false}, "axis": {"title": "vehicle body acceleration (m/s²)", "values": [-2.5, -2, -1.5, -1, -0.5, 0, 0.5, 1, 1.5, 2, 2.5], "format": ".1f", "titlePadding": 6}},
    "strokeDash": {"field": "m", "type": "nominal", "scale": {"domain": ["2500kg", "7500kg", "5000kg", "10000kg"], "range": [[1, 0], [3, 2], [10, 4, 2, 4], [16, 6]]}, "legend": {"orient": "none", "legendX": 23, "legendY": 1}}
  }
}
]
}
